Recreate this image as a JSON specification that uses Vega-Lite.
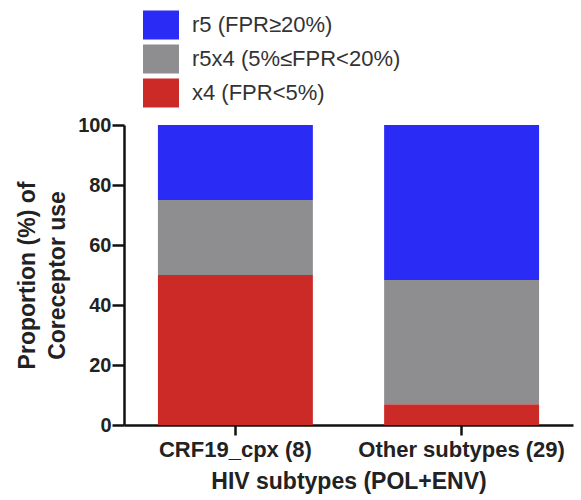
{
  "$schema": "https://vega.github.io/schema/vega-lite/v6.json",
  "autosize": "none",
  "width": 449,
  "height": 300,
  "padding": {"left": 124, "top": 125, "right": 8, "bottom": 75},
  "background": "white",
  "data": {
    "values": [
      {"group": "CRF19_cpx (8)", "type": "x4 (FPR<5%)", "ord": 1, "pct": 50},
      {"group": "CRF19_cpx (8)", "type": "r5x4 (5%≤FPR<20%)", "ord": 2, "pct": 25},
      {"group": "CRF19_cpx (8)", "type": "r5 (FPR≥20%)", "ord": 3, "pct": 25},
      {"group": "Other subtypes (29)", "type": "x4 (FPR<5%)", "ord": 1, "pct": 6.9},
      {"group": "Other subtypes (29)", "type": "r5x4 (5%≤FPR<20%)", "ord": 2, "pct": 41.4},
      {"group": "Other subtypes (29)", "type": "r5 (FPR≥20%)", "ord": 3, "pct": 51.7}
    ]
  },
  "mark": {"type": "bar"},
  "encoding": {
    "x": {
      "field": "group",
      "type": "nominal",
      "sort": null,
      "scale": {"paddingInner": 0.315, "paddingOuter": 0.15},
      "axis": {
        "title": "HIV subtypes (POL+ENV)",
        "labelAngle": 0,
        "labelFont": "Liberation Sans",
        "labelFontSize": 22,
        "labelFontWeight": "bold",
        "labelColor": "#222",
        "labelPadding": 4,
        "labelLimit": 300,
        "titleFont": "Liberation Sans",
        "titleFontSize": 23,
        "titleFontWeight": "bold",
        "titleColor": "#222",
        "titlePadding": 10,
        "domainColor": "#111",
        "domainWidth": 2.5,
        "tickColor": "#111",
        "tickWidth": 2.5,
        "tickSize": 10
      }
    },
    "y": {
      "field": "pct",
      "type": "quantitative",
      "stack": "zero",
      "scale": {"domain": [0, 100], "nice": false},
      "axis": {
        "title": ["Proportion (%) of", "Coreceptor use"],
        "values": [0, 20, 40, 60, 80, 100],
        "grid": false,
        "labelFont": "Liberation Sans",
        "labelFontSize": 20,
        "labelFontWeight": "bold",
        "labelColor": "#222",
        "labelPadding": 1,
        "titleFont": "Liberation Sans",
        "titleFontSize": 23,
        "titleFontWeight": "bold",
        "titleColor": "#222",
        "titleLineHeight": 30,
        "titlePadding": 8,
        "domainColor": "#111",
        "domainWidth": 2.5,
        "tickColor": "#111",
        "tickWidth": 2.5,
        "tickSize": 12
      }
    },
    "order": {"field": "ord", "type": "quantitative"},
    "color": {
      "field": "type",
      "type": "nominal",
      "scale": {
        "domain": ["r5 (FPR≥20%)", "r5x4 (5%≤FPR<20%)", "x4 (FPR<5%)"],
        "range": ["#2b2bf6", "#8e8e91", "#cb2a27"]
      },
      "legend": {
        "title": null,
        "orient": "none",
        "legendX": 19,
        "legendY": -118,
        "symbolType": "M-1,-0.8H1V0.8H-1Z",
        "symbolSize": 1296,
        "symbolStrokeWidth": 0,
        "symbolOpacity": 1,
        "labelFont": "Liberation Sans",
        "labelFontSize": 22,
        "labelColor": "#333",
        "labelOffset": 13,
        "rowPadding": 1,
        "labelLimit": 400
      }
    }
  },
  "config": {"view": {"stroke": null}}
}
